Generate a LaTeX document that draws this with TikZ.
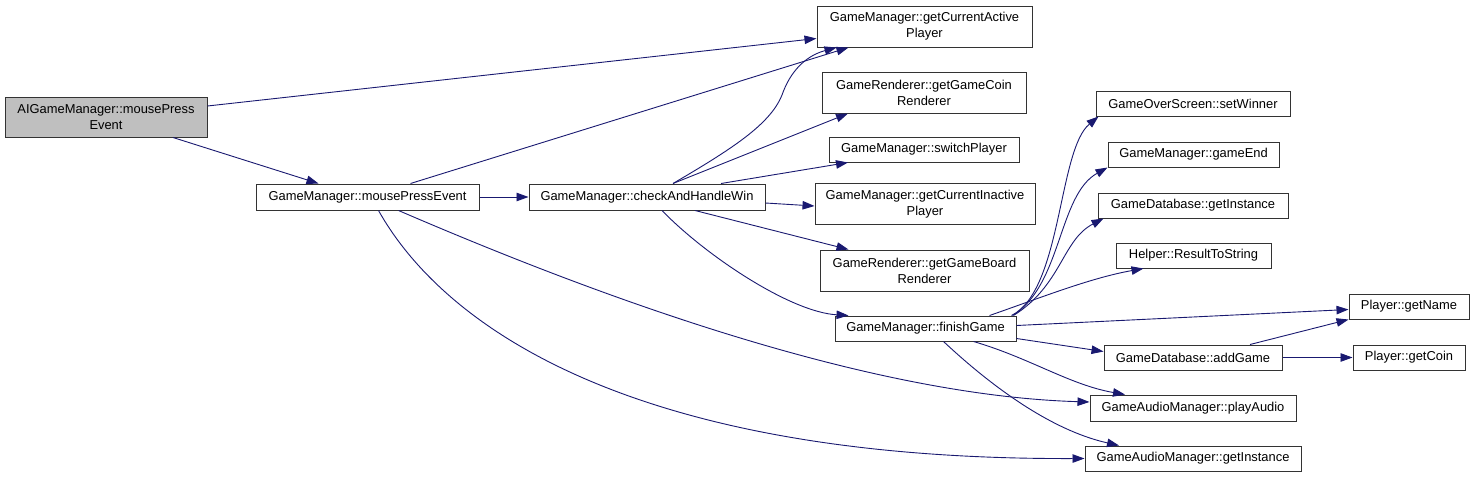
\documentclass[tikz,border=0pt]{standalone}
\usepackage{fontspec}
\setmainfont{Liberation Sans}
\usetikzlibrary{arrows.meta}
\definecolor{edgeblue}{HTML}{191970}
\definecolor{selgray}{HTML}{BFBFBF}
\begin{document}
\begin{tikzpicture}[x=1pt,y=-1pt,
  fn/.style={draw=black!80, line width=1pt, fill=white, inner sep=0pt, align=center,
    font=\fontsize{12.9}{16}\selectfont},
  edge/.style={draw=edgeblue, line width=0.9pt, -{Triangle[length=12pt,width=8.5pt]}, edgeblue}]
\useasboundingbox (0,0) rectangle (1475,477);
% nodes
\node[fn, fill=selgray, minimum width=202pt, minimum height=40pt] (ai) at (106,117) {AIGameManager::mousePress\\Event};
\node[fn, minimum width=223pt, minimum height=26pt] (mpe) at (367.5,197) {GameManager::mousePressEvent};
\node[fn, minimum width=236pt, minimum height=26pt] (chw) at (647,197) {GameManager::checkAndHandleWin};
\node[fn, minimum width=215pt, minimum height=41pt] (active) at (924.5,26.5) {GameManager::getCurrentActive\\Player};
\node[fn, minimum width=204pt, minimum height=41pt] (coin) at (924,92.5) {GameRenderer::getGameCoin\\Renderer};
\node[fn, minimum width=190pt, minimum height=25pt] (switch) at (924,149.5) {GameManager::switchPlayer};
\node[fn, minimum width=220pt, minimum height=41pt] (inactive) at (925,204) {GameManager::getCurrentInactive\\Player};
\node[fn, minimum width=209pt, minimum height=41pt] (board) at (924.5,270.5) {GameRenderer::getGameBoard\\Renderer};
\node[fn, minimum width=181pt, minimum height=25pt] (finish) at (925.5,328.5) {GameManager::finishGame};
\node[fn, minimum width=194pt, minimum height=25pt] (sw) at (1193,103.5) {GameOverScreen::setWinner};
\node[fn, minimum width=171pt, minimum height=25pt] (ge) at (1193.5,154.5) {GameManager::gameEnd};
\node[fn, minimum width=190pt, minimum height=25pt] (gdb) at (1193,205.5) {GameDatabase::getInstance};
\node[fn, minimum width=155pt, minimum height=25pt] (rts) at (1193.5,255.5) {Helper::ResultToString};
\node[fn, minimum width=120pt, minimum height=25pt] (gn) at (1409,306.5) {Player::getName};
\node[fn, minimum width=178pt, minimum height=25pt] (ag) at (1193,357.5) {GameDatabase::addGame};
\node[fn, minimum width=112pt, minimum height=25pt] (gc) at (1409,357.5) {Player::getCoin};
\node[fn, minimum width=206pt, minimum height=26pt] (pa) at (1193,408) {GameAudioManager::playAudio};
\node[fn, minimum width=216pt, minimum height=25pt] (gi) at (1193,458.5) {GameAudioManager::getInstance};
% edges from AIGameManager
\draw[edge] ([yshift=11pt]ai.east) -- ([yshift=-12pt]active.west);
\draw[edge] ([xshift=67pt]ai.south) -- ([xshift=-49pt]mpe.north);
% edges from mousePressEvent
\draw[edge] ([xshift=43pt]mpe.north) -- ([xshift=-76pt]active.south);
\draw[edge] (mpe) -- (chw);
\draw[edge] ([xshift=31pt]mpe.south) .. controls (560,280) and (850,395) .. ([yshift=6pt]pa.west);
\draw[edge] ([xshift=11pt]mpe.south) .. controls (440,320) and (620,460) .. (gi.west);
% edges from checkAndHandleWin
\draw[edge] ([xshift=26pt]chw.north) .. controls (730,150) and (770,125) .. (782,95)
  .. controls (790,72) and (805,56) .. ([xshift=-88pt]active.south);
\draw[edge] ([xshift=26pt]chw.north) -- ([xshift=-76pt]coin.south);
\draw[edge] ([xshift=74pt]chw.north) -- ([xshift=-76pt]switch.south);
\draw[edge] ([yshift=-6pt]chw.east) -- ([yshift=-2pt]inactive.west);
\draw[edge] ([xshift=48pt]chw.south) -- ([xshift=-76pt]board.north);
\draw[edge] ([xshift=15pt]chw.south) .. controls (705,255) and (790,312) .. ([xshift=-77pt]finish.north);
% edges from finishGame
\draw[edge] ([xshift=86pt]finish.north) .. controls (1062,290) and (1058,150) .. ([xshift=3pt]sw.south west);
\draw[edge] ([xshift=87pt]finish.north) .. controls (1062,285) and (1058,195) .. ([xshift=0pt]ge.south west);
\draw[edge] ([xshift=88pt]finish.north) .. controls (1062,285) and (1062,240) .. ([xshift=6pt]gdb.south west);
\draw[edge] ([xshift=64pt]finish.north) .. controls (1040,298) and (1090,278) .. ([xshift=-50pt]rts.south);
\draw[edge] ([yshift=3pt]finish.east) -- ([yshift=-3pt]gn.west);
\draw[edge] ([yshift=-10pt]finish.east) -- ([yshift=6pt]ag.west);
\draw[edge] ([xshift=48pt]finish.south) .. controls (1030,358) and (1070,385) .. ([xshift=-68pt]pa.north);
\draw[edge] ([xshift=18pt]finish.south) .. controls (990,385) and (1050,430) .. ([xshift=-74pt]gi.north);
% edges from addGame
\draw[edge] ([xshift=57pt]ag.north) -- (gn.south west);
\draw[edge] (ag) -- (gc);
\end{tikzpicture}
\end{document}
